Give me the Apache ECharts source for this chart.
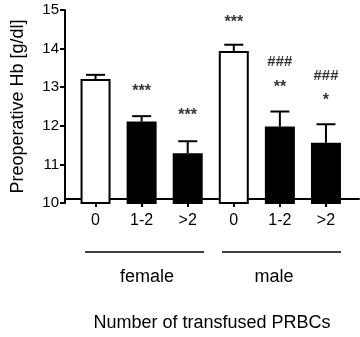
<!DOCTYPE html>
<html>
<head>
<meta charset="utf-8">
<script src="https://cdn.jsdelivr.net/npm/echarts@6/dist/echarts.min.js"></script>
<style>
  html, body { margin: 0; padding: 0; background: #fff; }
  #chart { width: 360px; height: 337px; }
</style>
</head>
<body>
<div id="chart"></div>
<script>
const categories = ['0', '1-2', '>2', '0', '1-2', '>2'];
const meanHb = [13.21, 12.11, 11.29, 13.94, 11.98, 11.56];
const errTop = [13.32, 12.25, 11.60, 14.10, 12.37, 12.04];
const starText = ['', '***', '***', '***', '**', '*'];
const starY = [null, 13.0, 12.36, 14.79, 13.1, 12.75];
const hashText = ['', '', '', '', '###', '###'];
const hashY = [null, null, null, null, 13.65, 13.29];
const yTicks = [10, 15, 1];  // min, max, interval

const font = "'Liberation Sans', Arial, sans-serif";
const chart = echarts.init(document.getElementById('chart'));

// significance marks, value = visual centre of the text
const labelSeries = (name, texts, ys, size, shift) => ({
    name: name,
    type: 'scatter',
    symbolSize: 0,
    silent: true,
    data: ys.map((y, i) => y == null ? null : { value: [i, y], label: { formatter: texts[i] } }),
    label: {
        show: true,
        position: 'inside',
        offset: [0, shift],
        color: '#000',
        fontFamily: font,
        fontWeight: 'bold',
        fontSize: size
    }
});

chart.setOption({
    animation: false,
    grid: [
        { left: 72.5, right: 11, top: 10, bottom: 134 },
        { left: 65, right: 1, top: 10, bottom: 134 }
    ],
    xAxis: [
        {
            type: 'category',
            gridIndex: 0,
            data: categories,
            axisLine: { show: false },
            axisTick: { show: true, alignWithLabel: true, length: 4, lineStyle: { color: '#000', width: 2 } },
            axisLabel: { color: '#000', fontFamily: font, fontSize: 16, margin: 10 }
        },
        {
            type: 'value',
            gridIndex: 1,
            min: 0,
            max: 1,
            axisLine: { show: true, lineStyle: { color: '#000', width: 2 } },
            axisTick: { show: false },
            axisLabel: { show: false },
            splitLine: { show: false },
            name: 'Number of transfused PRBCs',
            nameLocation: 'middle',
            nameGap: 115,
            nameTextStyle: { color: '#000', fontFamily: font, fontSize: 18 }
        }
    ],
    yAxis: [
        {
            type: 'value',
            gridIndex: 0,
            min: yTicks[0],
            max: yTicks[1],
            interval: yTicks[2],
            offset: 7.5,
            axisLine: { show: true, lineStyle: { color: '#000', width: 2 } },
            axisTick: { show: true, length: 5, lineStyle: { color: '#000', width: 2 } },
            axisLabel: { color: '#000', fontFamily: font, fontSize: 15, margin: 6 },
            splitLine: { show: false },
            name: 'Preoperative Hb [g/dl]',
            nameLocation: 'middle',
            nameGap: 38,
            nameTextStyle: { color: '#000', fontFamily: font, fontSize: 18 }
        },
        { type: 'value', gridIndex: 1, show: false, min: 0, max: 1 }
    ],
    series: [
        {
            type: 'bar',
            barWidth: 30,
            data: meanHb.map((v, i) => ({
                value: v,
                itemStyle: { color: (i % 3 === 0) ? '#fff' : '#000' }
            })),
            itemStyle: { borderColor: '#000', borderWidth: 2 }
        },
        {
            type: 'custom',
            silent: true,
            data: meanHb.map((v, i) => [i, v, errTop[i]]),
            renderItem: (params, api) => {
                const base = api.coord([api.value(0), api.value(1)]);
                const top = api.coord([api.value(0), api.value(2)]);
                const half = 9.5;
                const style = { stroke: '#000', lineWidth: 2 };
                return {
                    type: 'group',
                    children: [
                        { type: 'line', shape: { x1: top[0], y1: base[1], x2: top[0], y2: top[1] }, style: style },
                        { type: 'line', shape: { x1: top[0] - half, y1: top[1], x2: top[0] + half, y2: top[1] }, style: style }
                    ]
                };
            },
            z: 1
        },
        labelSeries('stars', starText, starY, 16, 4),
        labelSeries('hashes', hashText, hashY, 15, 0)
    ],
    graphic: [
        { type: 'line', shape: { x1: 85, y1: 252, x2: 204, y2: 252 }, style: { stroke: '#000', lineWidth: 1.5 } },
        { type: 'line', shape: { x1: 222, y1: 252, x2: 341, y2: 252 }, style: { stroke: '#000', lineWidth: 1.5 } },
        { type: 'text', x: 147, y: 277, style: { text: 'female', fill: '#000', font: '18px ' + font, textAlign: 'center', textVerticalAlign: 'middle' } },
        { type: 'text', x: 274, y: 277, style: { text: 'male', fill: '#000', font: '18px ' + font, textAlign: 'center', textVerticalAlign: 'middle' } }
    ]
});
</script>
</body>
</html>
